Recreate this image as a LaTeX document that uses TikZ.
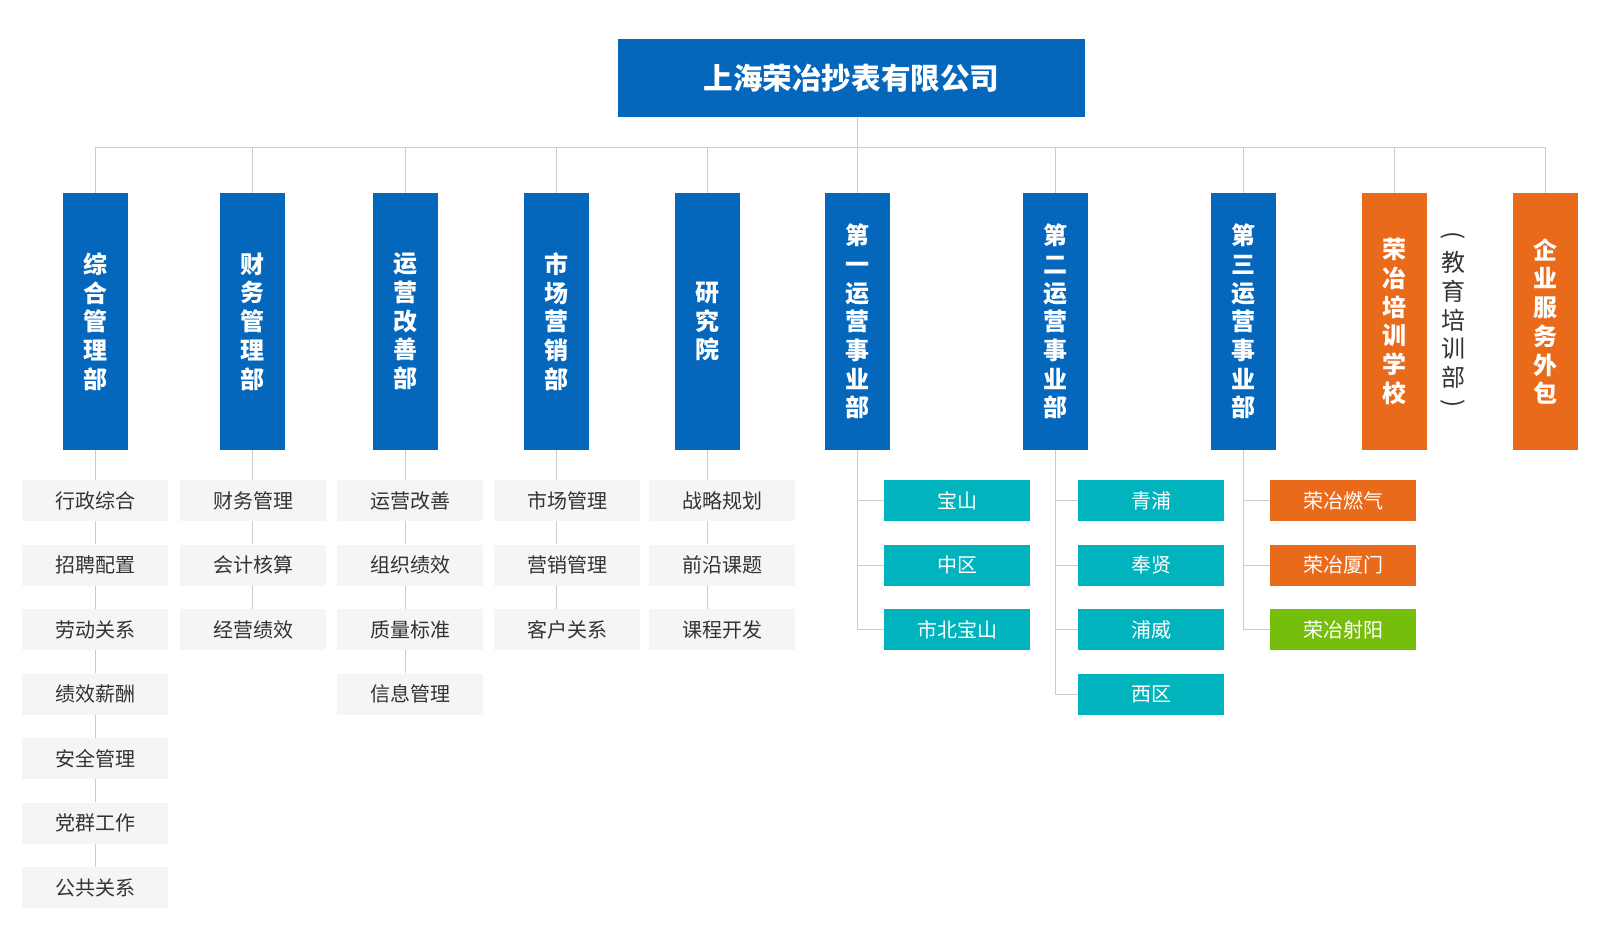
\documentclass[tikz,border=0pt]{standalone}
\usepackage{fontspec}
\usepackage{xcolor}
\usepackage{tikz}
\usetikzlibrary{shapes,arrows,positioning,calc}
\setmainfont{Noto Sans CJK SC}

\definecolor{rongblue}{RGB}{4,103,188}
\definecolor{rongorange}{RGB}{232,106,26}
\definecolor{rongteal}{RGB}{0,179,189}
\definecolor{ronggreen}{RGB}{118,190,12}
\definecolor{subgray}{RGB}{245,245,245}
\definecolor{linkgray}{RGB}{204,204,204}
\definecolor{textgray}{RGB}{51,51,51}

\tikzset{
  link/.style={draw=linkgray, line width=0.5pt},
  deptbox/.style={fill=#1, text=white, inner sep=0pt, minimum width=32.5pt,
    minimum height=128.5pt, align=center,
    font=\fontsize{12}{14.35}\selectfont\bfseries},
  subbox/.style={fill=subgray, text=textgray, inner sep=0pt, minimum width=73pt,
    minimum height=20.5pt, font=\fontsize{10}{12}\selectfont},
  branchbox/.style={fill=#1, text=white, inner sep=0pt, minimum width=73pt,
    minimum height=20.5pt, font=\fontsize{10}{12}\selectfont},
  paren/.style={text=textgray, inner sep=0pt, rotate=-90, font=\fontsize{12}{14.35}\selectfont}
}

\begin{document}
\begin{tikzpicture}[x=0.5pt, y=-0.5pt]
            \useasboundingbox (0,0) rectangle (1600,950);
            % draw the company
            \node[fill=rongblue, text=white, inner sep=0pt, minimum width=233.5pt, minimum height=39pt,
              font=\fontsize{14.8}{17}\selectfont\bfseries] (company) at (851.5,78) {上海荣冶抄表有限公司};
            \coordinate (bus) at (851.5,147);
            % draw the departments
            \foreach \i/\cx/\c/\txt in {1/95.5/rongblue/{综\\合\\管\\理\\部},
                                        2/252.5/rongblue/{财\\务\\管\\理\\部},
                                        3/405.5/rongblue/{运\\营\\改\\善\\部},
                                        4/556.5/rongblue/{市\\场\\营\\销\\部},
                                        5/707.5/rongblue/{研\\究\\院},
                                        6/857.5/rongblue/{第\\一\\运\\营\\事\\业\\部},
                                        7/1055.5/rongblue/{第\\二\\运\\营\\事\\业\\部},
                                        8/1243.5/rongblue/{第\\三\\运\\营\\事\\业\\部},
                                        9/1394.5/rongorange/{荣\\冶\\培\\训\\学\\校},
                                        10/1545.5/rongorange/{企\\业\\服\\务\\外\\包}}
            {
              \node[deptbox=\c] (c\i) at (\cx,321.5) {\txt};
              \draw[link] (c\i.north) -- (c\i.north |- bus);
            }
            % draw the school note
            \node[text=textgray, inner sep=0pt, align=center, font=\fontsize{12}{14.35}\selectfont] (school)
              at (1453,320) {教\\育\\培\\训\\部};
            \node[paren] (lparen) at (1453,236) {(};
            \node[paren] (rparen) at (1453,404) {)};
            % draw the bus
            \draw[link] (c1.north |- bus) -- (c10.north |- bus);
            \draw[link] (company.south -| c6) -- (c6.north |- bus);
            % draw the sections
            \foreach \g/\gx/\items in {1/95/{行政综合,招聘配置,劳动关系,绩效薪酬,安全管理,党群工作,公共关系},
                                      2/253/{财务管理,会计核算,经营绩效},
                                      3/410/{运营改善,组织绩效,质量标准,信息管理},
                                      4/567/{市场管理,营销管理,客户关系},
                                      5/722/{战略规划,前沿课题,课程开发}}
            \foreach \t [count=\r] in \items
            \node[subbox] (g\g-\r) at (\gx,{500.5+64.5*(\r-1)}) {\t};
            \foreach \g/\n in {1/7,2/3,3/4,4/3,5/3}
            {
              \draw[link] (c\g.south) -- (c\g.south |- g\g-1.north);
              \foreach \r [remember=\r as \p (initially 1)] in {2,...,\n}
              \draw[link] (c\g.south |- g\g-\p.south) -- (c\g.south |- g\g-\r.north);
            }
            % draw the branches
            \foreach \g/\bx/\items in {6/957/{宝山/rongteal,中区/rongteal,市北宝山/rongteal},
                                       7/1151/{青浦/rongteal,奉贤/rongteal,浦威/rongteal,西区/rongteal},
                                       8/1343/{荣冶燃气/rongorange,荣冶厦门/rongorange,荣冶射阳/ronggreen}}
            \foreach \t/\c [count=\r] in \items
            \node[branchbox=\c] (b\g-\r) at (\bx,{500.5+64.5*(\r-1)}) {\t};
            \foreach \g/\n in {6/3,7/4,8/3}
            {
              \draw[link] (c\g.south) |- (b\g-\n.west);
              \foreach \r in {1,...,\n}
              \draw[link] (b\g-\r.west) -- (c\g.south |- b\g-\r.west);
            }
        \end{tikzpicture}
\end{document}
